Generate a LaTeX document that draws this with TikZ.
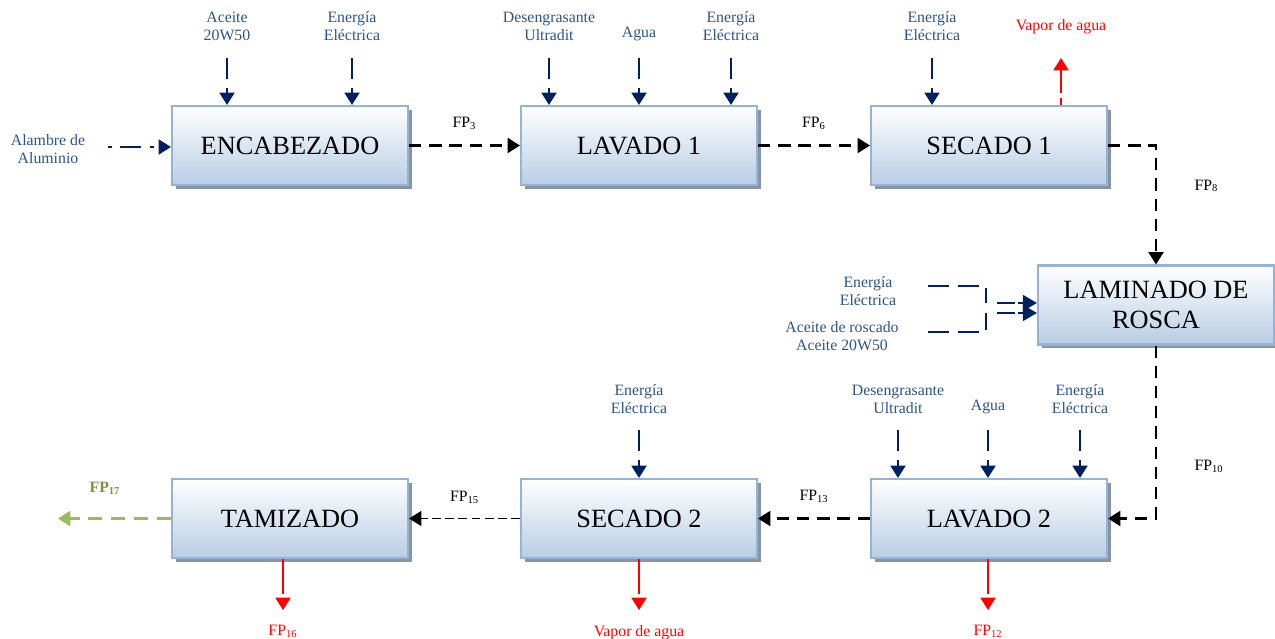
\documentclass[tikz,border=0pt]{standalone}
\usepackage{fontspec}
\setmainfont{Liberation Serif}
\usetikzlibrary{arrows.meta,shadows}
\definecolor{navy}{HTML}{002060}
\definecolor{lblue}{HTML}{2E5388}
\definecolor{boxline}{HTML}{95B3D7}
\definecolor{boxfill}{HTML}{B9CDE5}
\definecolor{shade}{HTML}{8794A6}
\definecolor{olive}{HTML}{9BBB59}
\definecolor{darkolive}{HTML}{77933C}
\newcommand{\fp}[1]{FP\textsubscript{#1}}
\tikzset{
  proc/.style={draw=boxline, line width=1.2pt, top color=white, bottom color=boxfill,
    minimum width=4.72cm, minimum height=1.58cm, align=center,
    font=\fontsize{15}{17}\selectfont,
    drop shadow={shadow xshift=0.08cm, shadow yshift=-0.08cm, fill=shade, opacity=1}},
  lbl/.style={font=\fontsize{9}{10.5}\selectfont, text=lblue, align=center},
  fplbl/.style={font=\fontsize{9}{10.5}\selectfont},
  inarr/.style={navy, line width=1.2pt, dash pattern=on 12pt off 5pt,
    -{Triangle[length=7pt,width=8.5pt]}},
  flow/.style={black, line width=1.2pt, dash pattern=on 7pt off 4.5pt,
    -{Triangle[length=7pt,width=8.5pt]}},
  outarr/.style={red, line width=1.2pt, dash pattern=on 20pt off 4pt,
    -{Triangle[length=7pt,width=8.5pt]}}
}
\begin{document}
\begin{tikzpicture}[x=0.02cm,y=-0.02cm]
\useasboundingbox (0,0) rectangle (1275,639);

% process boxes
\node[proc] (enc) at (290,145.5) {ENCABEZADO};
\node[proc] (lav1) at (639,145.5) {LAVADO 1};
\node[proc] (sec1) at (989,145.5) {SECADO 1};
\node[proc] (lam) at (1156,305) {LAMINADO DE\\ROSCA};
\node[proc] (lav2) at (989,518.5) {LAVADO 2};
\node[proc] (sec2) at (639,518.5) {SECADO 2};
\node[proc] (tam) at (290,518.5) {TAMIZADO};

% top row inputs
\node[lbl, anchor=south] (encA) at (227,47) {Aceite\\20W50};
\node[lbl, anchor=south] (encE) at (352,47) {Energía\\Eléctrica};
\node[lbl, anchor=south] (lav1D) at (549,47) {Desengrasante\\Ultradit};
\node[lbl, anchor=south] (lav1A) at (639,47) {Agua};
\node[lbl, anchor=south] (lav1E) at (731,47) {Energía\\Eléctrica};
\node[lbl, anchor=south] (sec1E) at (932,47) {Energía\\Eléctrica};
\coordinate (c1) at (227,58);
\coordinate (c2) at (352,58);
\coordinate (c3) at (549,58);
\coordinate (c4) at (639,58);
\coordinate (c5) at (731,58);
\coordinate (c6) at (932,58);
\foreach \c in {c1,c2}
  \draw[inarr] (\c) -- (\c |- enc.north);
\foreach \c in {c3,c4,c5}
  \draw[inarr] (\c) -- (\c |- lav1.north);
\draw[inarr] (c6) -- (c6 |- sec1.north);

% vapor secado 1
\node[font=\fontsize{9}{10.5}\selectfont, text=red] (vap1) at (1061,27) {Vapor de agua};
\coordinate (v1) at (1061,58);
\draw[red, line width=1.2pt, dash pattern=on 4pt off 3pt on 30pt off 0pt,
  -{Triangle[length=7pt,width=8.5pt]}] (v1 |- sec1.north) -- (v1);

% alambre
\node[lbl] (alam) at (48,149) {Alambre de\\Aluminio};
\coordinate (a0) at (108,147);
\draw[inarr, dash pattern=on 2pt off 5pt on 12pt off 5pt] (a0) -- (a0 -| enc.west);

% main flow
\draw[flow] (enc) -- node[fplbl, above=5pt] {\fp{3}} (lav1);
\draw[flow] (lav1) -- node[fplbl, above=5pt] {\fp{6}} (sec1);
\draw[flow] (sec1.east) -| node[fplbl, pos=0.67, right=18pt] {\fp{8}} (lam.north);
\draw[flow] (lam.south) |- node[fplbl, pos=0.35, right=18pt] {\fp{10}} (lav2.east);
\draw[flow] (lav2) -- node[fplbl, above=5pt] {\fp{13}} (sec2);
\draw[flow, line width=0.7pt, dash pattern=on 5pt off 2.5pt] (sec2) -- node[fplbl, above=5pt] {\fp{15}} (tam);
\coordinate (g0) at (58,518.5);
\draw[olive, line width=1.2pt, dash pattern=on 8pt off 5pt,
  -{Triangle[length=7pt,width=8.5pt]}] (tam.west) -- (g0);
\node[font=\bfseries\fontsize{9}{10.5}\selectfont, text=darkolive] (fp17) at (105,488) {\fp{17}};

% laminado inputs
\node[lbl] (lamE) at (868,291) {Energía\\Eléctrica};
\node[lbl] (lamA) at (842,336) {Aceite de roscado\\Aceite 20W50};
\coordinate (l1) at (928,286);
\coordinate (l2) at (928,332);
\coordinate (l3) at (986,303);
\coordinate (l4) at (986,313);
\draw[inarr, -] (l1) -| (l3);
\draw[inarr, -] (l2) -| (l4);
\draw[inarr, dash pattern=on 10pt off 2pt, -{Triangle[length=8pt,width=9pt]}] ([xshift=0.22cm]l3) -- (l3 -| lam.west);
\draw[inarr, dash pattern=on 10pt off 2pt, -{Triangle[length=8pt,width=9pt]}] ([xshift=0.22cm]l4) -- (l4 -| lam.west);

% bottom row inputs
\node[lbl, anchor=south] (lav2D) at (898,420) {Desengrasante\\Ultradit};
\node[lbl, anchor=south] (lav2A) at (988,420) {Agua};
\node[lbl, anchor=south] (lav2E) at (1080,420) {Energía\\Eléctrica};
\node[lbl, anchor=south] (sec2E) at (639,420) {Energía\\Eléctrica};
\coordinate (b1) at (898,430);
\coordinate (b2) at (988,430);
\coordinate (b3) at (1080,430);
\coordinate (b4) at (639,430);
\foreach \c in {b1,b2,b3}
  \draw[inarr] (\c) -- (\c |- lav2.north);
\draw[inarr] (b4) -- (b4 |- sec2.north);

% bottom outputs
\coordinate (o1) at (988,610);
\coordinate (o2) at (639,610);
\coordinate (o3) at (283,610);
\draw[outarr] (o1 |- lav2.south) -- (o1);
\draw[outarr] (o2 |- sec2.south) -- (o2);
\draw[outarr] (o3 |- tam.south) -- (o3);
\node[fplbl, text=red, anchor=north] (fp12) at (988,619) {\fp{12}};
\node[fplbl, text=red, anchor=north] (vap2) at (639,619) {Vapor de agua};
\node[fplbl, text=red, anchor=north] (fp16) at (283,619) {\fp{16}};
\end{tikzpicture}
\end{document}
